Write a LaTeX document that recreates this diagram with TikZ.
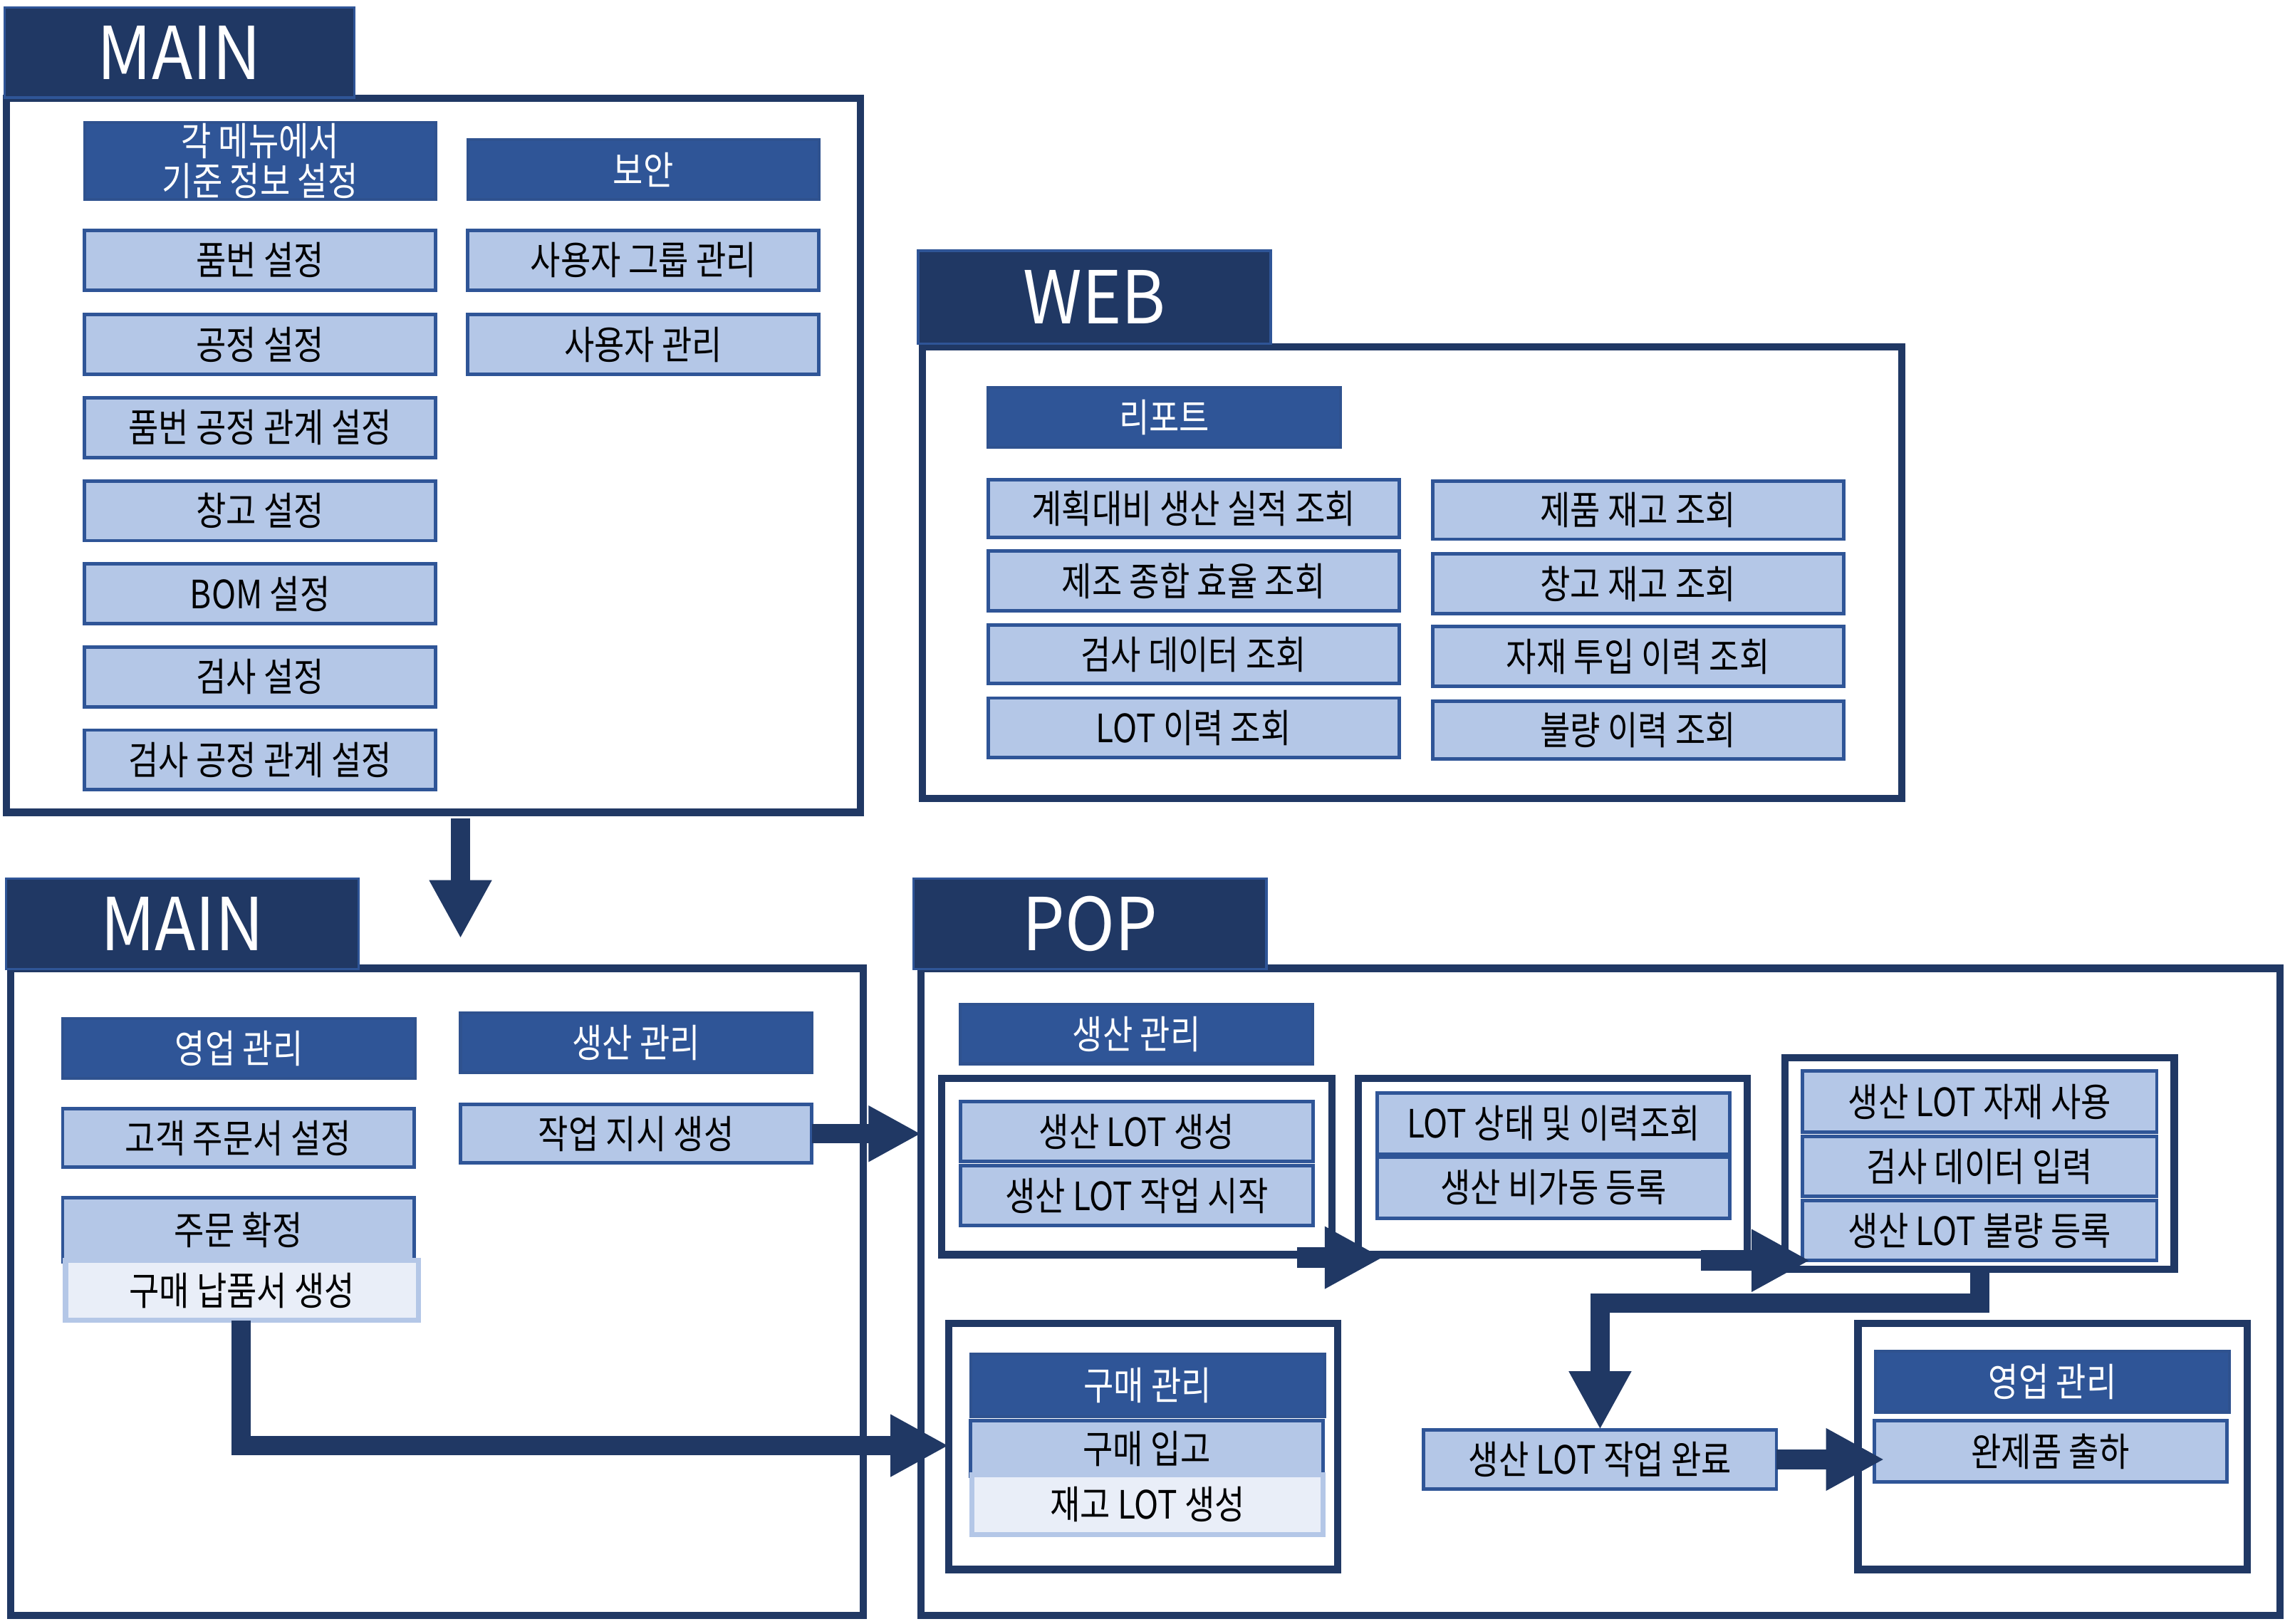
\documentclass[tikz,border=0pt]{standalone}
\usepackage{fontspec}
\newfontfamily\krfont{Noto Sans CJK KR}[FakeStretch=0.84]
\newfontfamily\ttlfont{Noto Sans CJK KR}[FakeStretch=0.92]
\usetikzlibrary{arrows.meta,calc}
\definecolor{navy}{HTML}{203864}
\definecolor{midblue}{HTML}{2F5597}
\definecolor{midedge}{HTML}{2F528F}
\definecolor{lightblue}{HTML}{B4C7E7}
\definecolor{paleblue}{HTML}{E9EEF8}
\tikzset{
  base/.style={inner sep=0pt, outer sep=0pt, align=center,
    font=\krfont\fontsize{19.05pt}{19.2pt}\selectfont},
  lbox/.style={base, draw=midblue, fill=lightblue, line width=0.6mm, text=black},
  dbox/.style={base, draw=midedge, fill=midblue, line width=0.5mm, text=white},
  pbox/.style={base, draw=lightblue, fill=paleblue, line width=0.9mm, text=black},
  hdr/.style={inner sep=0pt, outer sep=0pt, draw=midblue, fill=navy, line width=0.4mm,
    text=white, font=\ttlfont\fontsize{35.6pt}{40pt}\selectfont},
  frame/.style={draw=navy, line width=1.25mm, inner sep=0pt, outer sep=0pt},
  grp/.style={draw=navy, line width=1.25mm, fill=white, inner sep=0pt, outer sep=0pt},
  barrow/.style={draw=navy, line width=3.3mm, -{Triangle[length=10mm,width=10mm]}},
}
\newcommand\bx[7]{\node[#1, minimum width={(#5-#3)*0.25mm}, minimum height={(#6-#4)*0.25mm}] (#2) at ({(#3+#5)/2},{(#4+#6)/2}) {#7};}
\begin{document}
\begin{tikzpicture}[x=0.25mm,y=-0.25mm]
\path[fill=white, use as bounding box] (0,0) rectangle (1568,1114);

% ---------- top MAIN ----------
\bx{frame}{mainA}{4.5}{67.5}{590.5}{557.5}{}
\bx{hdr}{hA}{3}{5}{243}{67}{MAIN}
\bx{dbox}{a0}{58}{84}{299}{137}{각 메뉴에서\\기준 정보 설정}
\bx{lbox}{a1}{58}{158}{299}{199}{품번 설정}
\bx{lbox}{a2}{58}{216}{299}{257}{공정 설정}
\bx{lbox}{a3}{58}{273}{299}{314}{품번 공정 관계 설정}
\bx{lbox}{a4}{58}{330}{299}{371}{창고 설정}
\bx{lbox}{a5}{58}{387}{299}{428}{BOM 설정}
\bx{lbox}{a6}{58}{444}{299}{485}{검사 설정}
\bx{lbox}{a7}{58}{501}{299}{542}{검사 공정 관계 설정}
\bx{dbox}{b0}{321}{96}{562}{137}{보안}
\bx{lbox}{b1}{321}{158}{562}{199}{사용자 그룹 관리}
\bx{lbox}{b2}{321}{216}{562}{257}{사용자 관리}

% ---------- WEB ----------
\bx{frame}{web}{633}{238}{1305}{548}{}
\bx{hdr}{hW}{630}{172}{872}{236}{WEB}
\bx{dbox}{w0}{678}{266}{920}{307}{리포트}
\bx{lbox}{w1}{678}{329}{960}{369}{계획대비 생산 실적 조회}
\bx{lbox}{w2}{678}{378}{960}{419}{제조 종합 효율 조회}
\bx{lbox}{w3}{678}{429}{960}{469}{검사 데이터 조회}
\bx{lbox}{w4}{678}{479}{960}{520}{LOT 이력 조회}
\bx{lbox}{w5}{983}{330}{1265}{370}{제품 재고 조회}
\bx{lbox}{w6}{983}{380}{1265}{421}{창고 재고 조회}
\bx{lbox}{w7}{983}{430}{1265}{471}{자재 투입 이력 조회}
\bx{lbox}{w8}{983}{481}{1265}{521}{불량 이력 조회}

% ---------- bottom MAIN ----------
\bx{frame}{mainB}{7.5}{664.5}{592.5}{1108.5}{}
\bx{hdr}{hB}{4}{603}{246}{665}{MAIN}
\bx{dbox}{c0}{43}{699}{285}{740}{영업 관리}
\bx{lbox}{c1}{43}{761}{284}{801}{고객 주문서 설정}
\bx{lbox}{c2}{43}{822}{284}{866}{주문 확정}
\bx{pbox}{pn}{45}{865}{287}{906}{구매 납품서 생성}
\bx{dbox}{d0}{316}{695}{557}{736}{생산 관리}
\bx{lbox}{wo}{316}{758}{557}{798}{작업 지시 생성}

% ---------- POP ----------
\bx{frame}{pop}{632}{664.5}{1564.5}{1108.5}{}
\bx{hdr}{hP}{627}{603}{869}{665}{POP}
\bx{dbox}{p0}{659}{689}{901}{730}{생산 관리}
\bx{grp}{g1}{646}{740}{914}{861}{}
\bx{lbox}{p1}{659}{756}{901}{797}{생산 LOT 생성}
\bx{lbox}{p2}{659}{800}{901}{841}{생산 LOT 작업 시작}
\bx{grp}{g2}{932}{740}{1199}{861}{}
\bx{lbox}{p3}{945}{750}{1187}{792}{LOT 상태 및 이력조회}
\bx{lbox}{p4}{945}{794}{1187}{836}{생산 비가동 등록}
\bx{grp}{g3}{1225}{726}{1492}{871}{}
\bx{lbox}{p5}{1237}{735}{1480}{777}{생산 LOT 자재 사용}
\bx{lbox}{p6}{1237}{780}{1480}{821}{검사 데이터 입력}
\bx{lbox}{p7}{1237}{824}{1480}{865}{생산 LOT 불량 등록}
\bx{grp}{g5}{651}{908}{918}{1077}{}
\bx{dbox}{q0}{666}{929}{909}{972}{구매 관리}
\bx{lbox}{q1}{666}{975}{908}{1013}{구매 입고}
\bx{pbox}{q2}{667}{1012}{908}{1053}{재고 LOT 생성}
\bx{grp}{g4}{1275}{908}{1542}{1077}{}
\bx{dbox}{s0}{1287}{927}{1530}{969}{영업 관리}
\bx{lbox}{ship}{1286}{975}{1528}{1017}{완제품 출하}
\bx{lbox}{done}{977}{981}{1219}{1022}{생산 LOT 작업 완료}

% ---------- arrows ----------
\coordinate (dA) at (316,644);
\draw[barrow] ($(mainA.south -| dA)+(0,4)$) -- (dA);
\draw[barrow, -{Triangle[length=9mm,width=9mm]}] (wo.east) -- (wo.east -| pop.west);
\coordinate (pc) at (165.5,992);
\draw[barrow] (pc |- pn.south) -- (pc) -- (pc -| g5.west);
\draw[barrow, line width=3.5mm] ($(g1.south east)+(-24,2)$) -- ($(g2.south west)+(17,2)$);
\draw[barrow, line width=3.5mm] ($(g2.south east)+(-32,4)$) -- ($(g3.west |- g2.south)+(17,4)$);
\draw[barrow] (g3.south) |- ($(done.north)+(0,-87)$) -- (done.north);
\draw[barrow, line width=3.5mm] (done.east) -- ($(done.east -| ship.west)+(7,0)$);
\end{tikzpicture}
\end{document}
